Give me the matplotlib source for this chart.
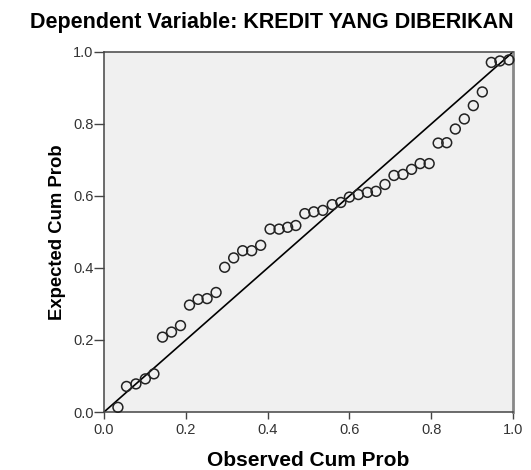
import matplotlib
matplotlib.use("Agg")
import matplotlib.pyplot as plt
import numpy as np

# observed / expected cumulative probabilities
observed = [0.034, 0.055, 0.078, 0.101, 0.122, 0.143, 0.165, 0.187, 0.209, 0.230,
            0.252, 0.274, 0.295, 0.317, 0.339, 0.361, 0.383, 0.406, 0.428, 0.449,
            0.469, 0.491, 0.513, 0.535, 0.558, 0.579, 0.600, 0.622, 0.644, 0.665,
            0.687, 0.709, 0.731, 0.752, 0.773, 0.795, 0.817, 0.838, 0.859, 0.881,
            0.903, 0.925, 0.947, 0.968, 0.990]
expected = [0.013, 0.071, 0.078, 0.092, 0.106, 0.208, 0.222, 0.240, 0.297, 0.313,
            0.315, 0.332, 0.402, 0.428, 0.448, 0.448, 0.463, 0.508, 0.508, 0.513,
            0.518, 0.551, 0.556, 0.560, 0.576, 0.582, 0.597, 0.604, 0.610, 0.613,
            0.632, 0.657, 0.660, 0.674, 0.690, 0.690, 0.747, 0.748, 0.786, 0.814,
            0.851, 0.889, 0.971, 0.975, 0.978]
ticks = [0.0, 0.2, 0.4, 0.6, 0.8, 1.0]

plt.rcParams['font.family'] = ['Liberation Sans', 'DejaVu Sans']

fig = plt.figure(figsize=(5.31, 4.70), dpi=100)
ax = fig.add_axes([0.1959, 0.1234, 0.7702, 0.766])
ax.set_facecolor('#f0f0f0')

ax.plot([0, 1], [0, 1], color='black', linewidth=1.2, zorder=2)
ax.scatter(observed, expected, s=50, facecolors='none', edgecolors='#222222',
           linewidths=1.1, zorder=3, clip_on=False)

ax.set_xlim(0, 1)
ax.set_ylim(0, 1)
ax.set_xticks(ticks)
ax.set_yticks(ticks)
ax.set_xticklabels(['%.1f' % t for t in ticks])
ax.set_yticklabels(['%.1f' % t for t in ticks])
ax.tick_params(width=1, color='#444444', labelsize=10.5, labelcolor='#333333')
ax.tick_params(axis='x', length=5, pad=3)
ax.tick_params(axis='y', length=7, pad=0.5)

for side in ax.spines:
    ax.spines[side].set_color('#444444')
    ax.spines[side].set_linewidth(1.1)
ax.spines['right'].set_color('#888888')
ax.spines['right'].set_linewidth(2)

ax.set_xlabel('Observed Cum Prob', fontsize=15, fontweight='bold', labelpad=10)
ax.set_ylabel('Expected Cum Prob', fontsize=13.3, fontweight='bold')
ax.yaxis.set_label_coords(-0.092, 0.5)
fig.text(0.512, 0.953, 'Dependent Variable: KREDIT YANG DIBERIKAN', fontsize=15.5,
         fontweight='bold', ha='center', va='center')

fig.savefig('out.png', dpi=100)
